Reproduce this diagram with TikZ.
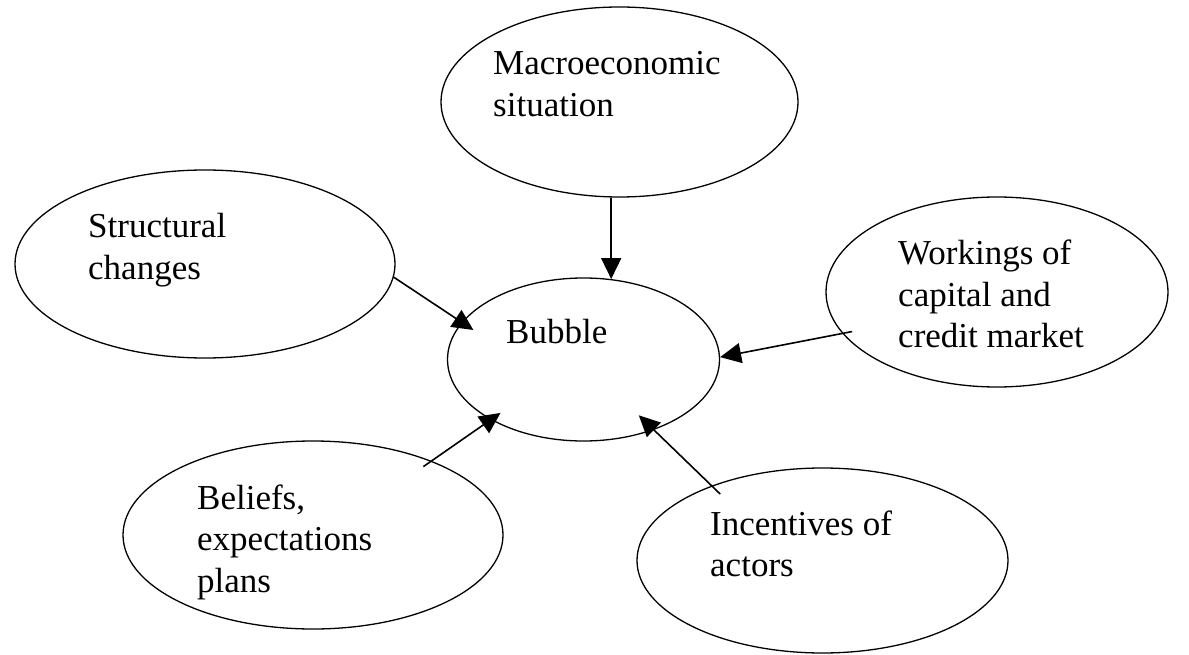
\documentclass[tikz,border=0pt]{standalone}
\usepackage{fontspec}
\setmainfont{Liberation Serif}
\usetikzlibrary{arrows.meta,shapes.geometric}
\begin{document}
\begin{tikzpicture}[x=1pt,y=-1pt,
  oval/.style={draw, line width=1.3pt, ellipse, inner sep=0pt},
  lbl/.style={anchor=base west, inner sep=0pt, font=\fontsize{35}{41.5}\selectfont},
  arr/.style={line width=1.6pt, -{Triangle[length=21pt,width=20pt]}}]
\useasboundingbox[fill=white] (0,0) rectangle (1189,655);
% ellipses
\node[oval, minimum width=357pt, minimum height=190pt] (macro) at (619.5,102) {};
\node[oval, minimum width=380pt, minimum height=188pt] (struct) at (205,264) {};
\node[oval, minimum width=342pt, minimum height=190pt] (work) at (997,292) {};
\node[oval, minimum width=272pt, minimum height=163pt] (bubble) at (583.5,359.5) {};
\node[oval, minimum width=380pt, minimum height=188pt] (beliefs) at (313,535) {};
\node[oval, minimum width=371pt, minimum height=185pt] (incent) at (822.5,560.5) {};
% labels
\node[lbl] (macrot) at (493,75) {\begin{tabular}[t]{@{}l@{}}Macroeconomic\\situation\end{tabular}};
\node[lbl] (structt) at (88,238) {\begin{tabular}[t]{@{}l@{}}Structural\\changes\end{tabular}};
\node[lbl] (workt) at (898,265) {\begin{tabular}[t]{@{}l@{}}Workings of\\capital and\\credit market\end{tabular}};
\node[lbl] (bubblet) at (506,343) {Bubble};
\node[lbl] (beliefst) at (197,509) {\begin{tabular}[t]{@{}l@{}}Beliefs,\\expectations\\plans\end{tabular}};
\node[lbl] (incentt) at (710,535) {\begin{tabular}[t]{@{}l@{}}Incentives of\\actors\end{tabular}};
% connectors
\draw[arr] (bubble.71 |- macro.south) -- (bubble.71);
\draw[arr, shorten >=-14pt] (struct.-4) -- (bubble.163);
\draw[arr, shorten <=-10pt] (work.195) -- (bubble.1);
\draw[arr, shorten <=-10pt, shorten >=-12pt] (beliefs.32) -- (bubble.213);
\draw[arr, shorten <=-12pt, shorten >=-21pt] (incent.146) -- (bubble.-45);
\end{tikzpicture}
\end{document}
